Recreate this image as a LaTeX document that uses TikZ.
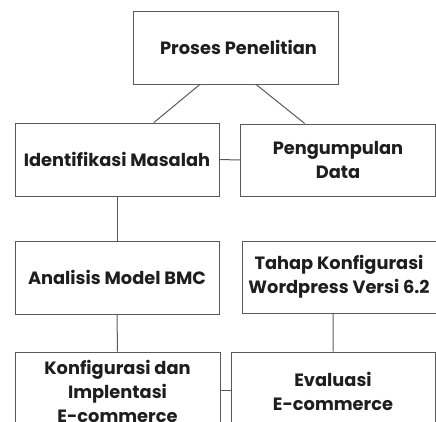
\documentclass[tikz,border=0pt]{standalone}
\usepackage{fontspec}
\setmainfont{Poppins}
\usetikzlibrary{calc}
\definecolor{lineclr}{HTML}{5A5A5A}
\definecolor{txtclr}{HTML}{1E1E1E}
\tikzset{
  box/.style={draw=lineclr, line width=1pt, rectangle, align=center, inner sep=0pt,
    text=txtclr, font=\fontsize{17.8}{24}\selectfont\bfseries},
  link/.style={draw=lineclr, line width=1pt}
}
\begin{document}
\begin{tikzpicture}[x=1pt,y=-1pt]
\useasboundingbox (0,0) rectangle (436,421);
\clip (0,0) rectangle (436,421);
\node[box, minimum width=205pt, minimum height=73pt] (top) at (235.5,47.5) {\hspace*{6pt}Proses Penelitian};
\node[box, minimum width=204pt, minimum height=73pt] (iden) at (117,159.5) {Identifikasi Masalah};
\node[box, minimum width=195pt, minimum height=72pt] (peng) at (338,160) {Pengumpulan\\Data};
\node[box, minimum width=204pt, minimum height=73pt] (anal) at (117,277.5) {Analisis Model BMC};
\node[box, minimum width=194pt, minimum height=72pt] (tahap) at (339,277) {\fontsize{17.8}{21}\selectfont Tahap Konfigurasi\\Wordpress Versi 6.2};
\node[box, minimum width=205pt, minimum height=78pt] (konf) at (117.5,391) {Konfigurasi dan\\Implentasi\\E-commerce};
\node[box, minimum width=204pt, minimum height=78pt] (eval) at (333,391) {Evaluasi\\E-commerce};
\draw[link] ($(top.south west)!0.327!(top.south east)$) -- ($(iden.north west)!0.68!(iden.north east)$);
\draw[link] ($(top.south west)!0.6!(top.south east)$) -- ($(peng.north west)!0.33!(peng.north east)$);
\draw[link] (iden.east) -- (peng.west);
\draw[link] (iden.south) -- (anal.north);
\draw[link] ($(tahap.south west)!0.47!(tahap.south east)$) -- ($(eval.north west)!0.5!(eval.north east)$);
\draw[link] (anal.south) -- (konf.north);
\draw[link] (konf.east |- 0,390) -- (eval.west |- 0,390);
\end{tikzpicture}
\end{document}
